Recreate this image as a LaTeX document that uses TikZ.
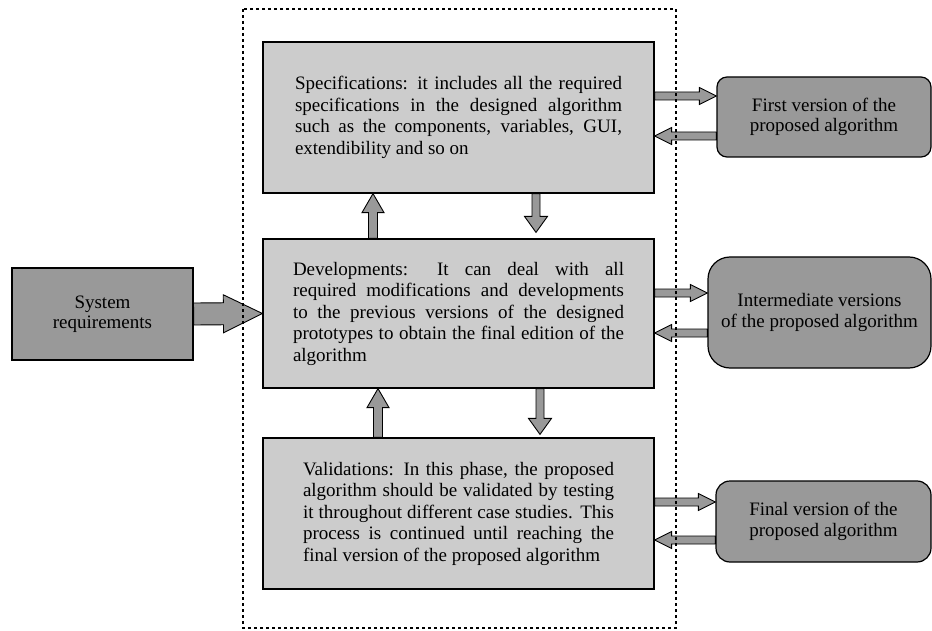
\documentclass[tikz,border=0pt]{standalone}
\usepackage{fontspec}
\setmainfont{Liberation Serif}
\usetikzlibrary{calc}
\definecolor{phasegray}{gray}{0.8}
\definecolor{versiongray}{gray}{0.6}
% block arrow: start, end, shaft half width, head half width, head length
\newcommand{\fatarrow}[5]{%
  \draw[blockarrow] let \p1=($(#2)-(#1)$), \n1={atan2(\y1,\x1)}, \n2={veclen(\x1,\y1)} in
    [shift={(#1)}, rotate=\n1] (0pt,#3) -- (\n2-#5,#3) -- (\n2-#5,#4) -- (\n2,0pt)
    -- (\n2-#5,-#4) -- (\n2-#5,-#3) -- (0pt,-#3) -- cycle;
}
\begin{document}
\begin{tikzpicture}[x=1pt, y=-1pt,
  phase/.style={draw, line width=1.2pt, fill=phasegray, minimum width=391pt, inner sep=0pt,
    align=justify, font=\rmfamily\fontsize{19}{21.5}\selectfont},
  version/.style={draw, line width=1.2pt, fill=versiongray, inner sep=0pt,
    align=center, font=\rmfamily\fontsize{19}{20.5}\selectfont},
  blockarrow/.style={draw, line width=0.9pt, fill=versiongray, line join=miter},
  frame/.style={line width=1.2pt, dash pattern=on 3pt off 3pt}]
  \useasboundingbox (0,0) rectangle (932,631);

  % phases
  \node[phase, minimum height=151pt, text width=327pt] (spec) at (458.5,117.5)
    {Specifications: it includes all the required\linebreak
     specifications in the designed algorithm\linebreak
     such as the components, variables, GUI,\linebreak
     extendibility and so on};
  \node[phase, minimum height=149pt, text width=331pt] (dev) at (458.5,313.5)
    {Developments: It can deal with all\linebreak
     required modifications and developments\linebreak
     to the previous versions of the designed\linebreak
     prototypes to obtain the final edition of the\linebreak
     algorithm};
  \node[phase, minimum height=151pt, text width=311pt] (valid) at (458.5,513.5)
    {Validations: In this phase, the proposed\linebreak
     algorithm should be validated by testing\linebreak
     it throughout different case studies. This\linebreak
     process is continued until reaching the\linebreak
     final version of the proposed algorithm};

  % input and versions
  \node[version, minimum width=181pt, minimum height=92pt] (sysreq) at (102.5,314)
    {System\\requirements};
  \node[version, rounded corners=10pt, minimum width=214pt, minimum height=80pt] (first) at (824,117)
    {First version of the\\proposed algorithm};
  \node[version, rounded corners=22pt, minimum width=223pt, minimum height=111pt] (inter) at (819.5,312.5)
    {Intermediate versions\\of the proposed algorithm};
  \node[version, rounded corners=14pt, minimum width=215pt, minimum height=81pt] (final) at (823.5,521.5)
    {Final version of the\\proposed algorithm};

  % arrows
  \fatarrow{sysreq.east}{dev.west}{11pt}{19pt}{39pt}

  \coordinate (specdown) at ($(dev.north -| 536,0)+(0,-6)$);
  \coordinate (devdown) at ($(valid.north -| 540,0)+(0,-3)$);
  \fatarrow{dev.north -| 373,0}{spec.south -| 373,0}{4.5pt}{11pt}{19pt}
  \fatarrow{spec.south -| 536,0}{specdown}{4pt}{11.5pt}{16pt}
  \fatarrow{valid.north -| 378,0}{dev.south -| 378,0}{4.5pt}{11pt}{19pt}
  \fatarrow{dev.south -| 540,0}{devdown}{4pt}{11.5pt}{16pt}

  \fatarrow{spec.east |- 0,96}{first.west |- 0,96}{4pt}{8.5pt}{17pt}
  \fatarrow{first.west |- 0,136}{spec.east |- 0,136}{4pt}{8.5pt}{17pt}
  \fatarrow{dev.east |- 0,293}{inter.west |- 0,293}{4pt}{8.5pt}{17pt}
  \fatarrow{inter.west |- 0,333}{dev.east |- 0,333}{4pt}{8.5pt}{17pt}
  \fatarrow{valid.east |- 0,502}{final.west |- 0,502}{4pt}{8.5pt}{17pt}
  \fatarrow{final.west |- 0,540}{valid.east |- 0,540}{4pt}{8.5pt}{17pt}

  % process frame
  \draw[frame] (243,9) rectangle (676,628);
\end{tikzpicture}
\end{document}
